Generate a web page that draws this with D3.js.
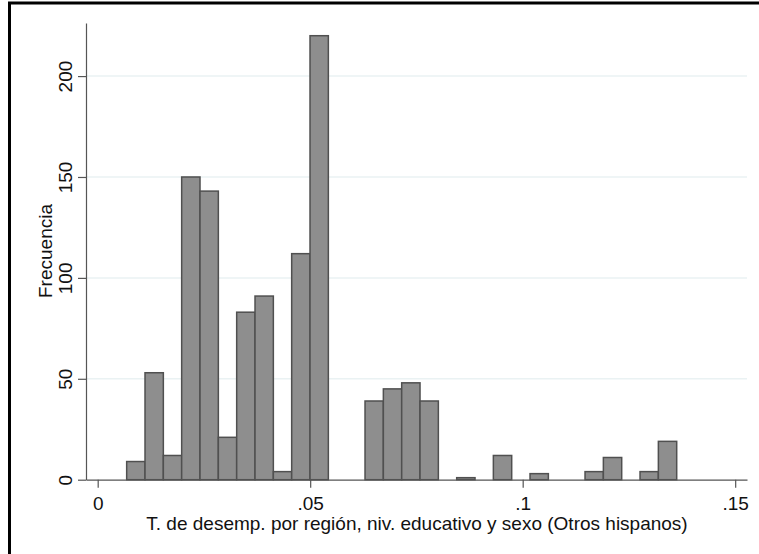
<!DOCTYPE html>
<html>
<head>
<meta charset="utf-8">
<script src="https://cdn.jsdelivr.net/npm/d3@7"></script>
<style>
  body { margin: 0; background: #fff; }
  svg { display: block; font-family: "Liberation Sans", Arial, sans-serif; }
</style>
</head>
<body>
<svg id="chart" width="759" height="554"></svg>
<script>
// histogram: 30 bins, counts
var binStart = 0.00682;
var binWidth = 0.004314;
var counts = [9, 53, 12, 150, 143, 21, 83, 91, 4, 112,
              220, 0, 0, 39, 45, 48, 39, 0, 1, 0,
              12, 0, 3, 0, 0, 4, 11, 0, 4, 19];
var xTicks = [0, 0.05, 0.1, 0.15];
var xTickLabels = ["0", ".05", ".1", ".15"];
var yTicks = [0, 50, 100, 150, 200];
var xTitle = "T. de desemp. por región, niv. educativo y sexo (Otros hispanos)";
var yTitle = "Frecuencia";

var svg = d3.select("#chart");

// outer frame (only left and top edges show in the window)
svg.append("rect")
    .attr("x", 9.5).attr("y", 3)
    .attr("width", 800).attr("height", 600)
    .attr("fill", "none")
    .attr("stroke", "#000")
    .attr("stroke-width", 3);

var x = d3.scaleLinear().domain([-0.00275, 0.15278]).range([86, 747]);
var y = d3.scaleLinear().domain([0, 226.3]).range([479.7, 23]);

var bins = counts.map(function(c, i) {
    return {x0: binStart + i * binWidth, x1: binStart + (i + 1) * binWidth, n: c};
});

// gridlines
svg.append("g").selectAll("line")
    .data(yTicks.filter(function(d) { return d > 0; }))
    .join("line")
    .attr("x1", 86).attr("x2", 747)
    .attr("y1", function(d) { return y(d); })
    .attr("y2", function(d) { return y(d); })
    .attr("stroke", "#eaf2f3")
    .attr("stroke-width", 1.5);

// bars
svg.append("g").selectAll("rect")
    .data(bins.filter(function(d) { return d.n > 0; }))
    .join("rect")
    .attr("x", function(d) { return x(d.x0); })
    .attr("width", function(d) { return x(d.x1) - x(d.x0); })
    .attr("y", function(d) { return y(d.n); })
    .attr("height", function(d) { return y(0) - y(d.n); })
    .attr("fill", "#8e8e8e")
    .attr("stroke", "#505050")
    .attr("stroke-width", 1.5);

// y axis
var yAxis = d3.axisLeft(y).tickValues(yTicks).tickSize(8).tickSizeOuter(0);
var gy = svg.append("g").attr("transform", "translate(86,0)").call(yAxis);
gy.select(".domain").attr("stroke", "#555").attr("stroke-width", 1.2);
gy.selectAll(".tick line").attr("stroke", "#555").attr("stroke-width", 1.2);
gy.selectAll(".tick text")
    .attr("font-size", 19)
    .attr("fill", "#111")
    .attr("text-anchor", "middle")
    .attr("dy", 0)
    .attr("transform", "translate(-14,0) rotate(-90)")
    .attr("x", 0).attr("y", 0);

// x axis
var xAxis = d3.axisBottom(x).tickValues(xTicks)
    .tickFormat(function(d, i) { return xTickLabels[i]; })
    .tickSize(8).tickSizeOuter(0);
var gx = svg.append("g").attr("transform", "translate(0,479.7)").call(xAxis);
gx.select(".domain").attr("stroke", "#555").attr("stroke-width", 1.2);
gx.selectAll(".tick line").attr("stroke", "#555").attr("stroke-width", 1.2);
gx.selectAll(".tick text")
    .attr("font-size", 19)
    .attr("fill", "#111")
    .attr("y", 17);

// titles
svg.append("text")
    .attr("x", 417).attr("y", 530)
    .attr("text-anchor", "middle")
    .attr("font-size", 19)
    .attr("fill", "#111")
    .text(xTitle);

svg.append("text")
    .attr("transform", "translate(52,251) rotate(-90)")
    .attr("text-anchor", "middle")
    .attr("font-size", 19)
    .attr("fill", "#111")
    .text(yTitle);
</script>
</body>
</html>
